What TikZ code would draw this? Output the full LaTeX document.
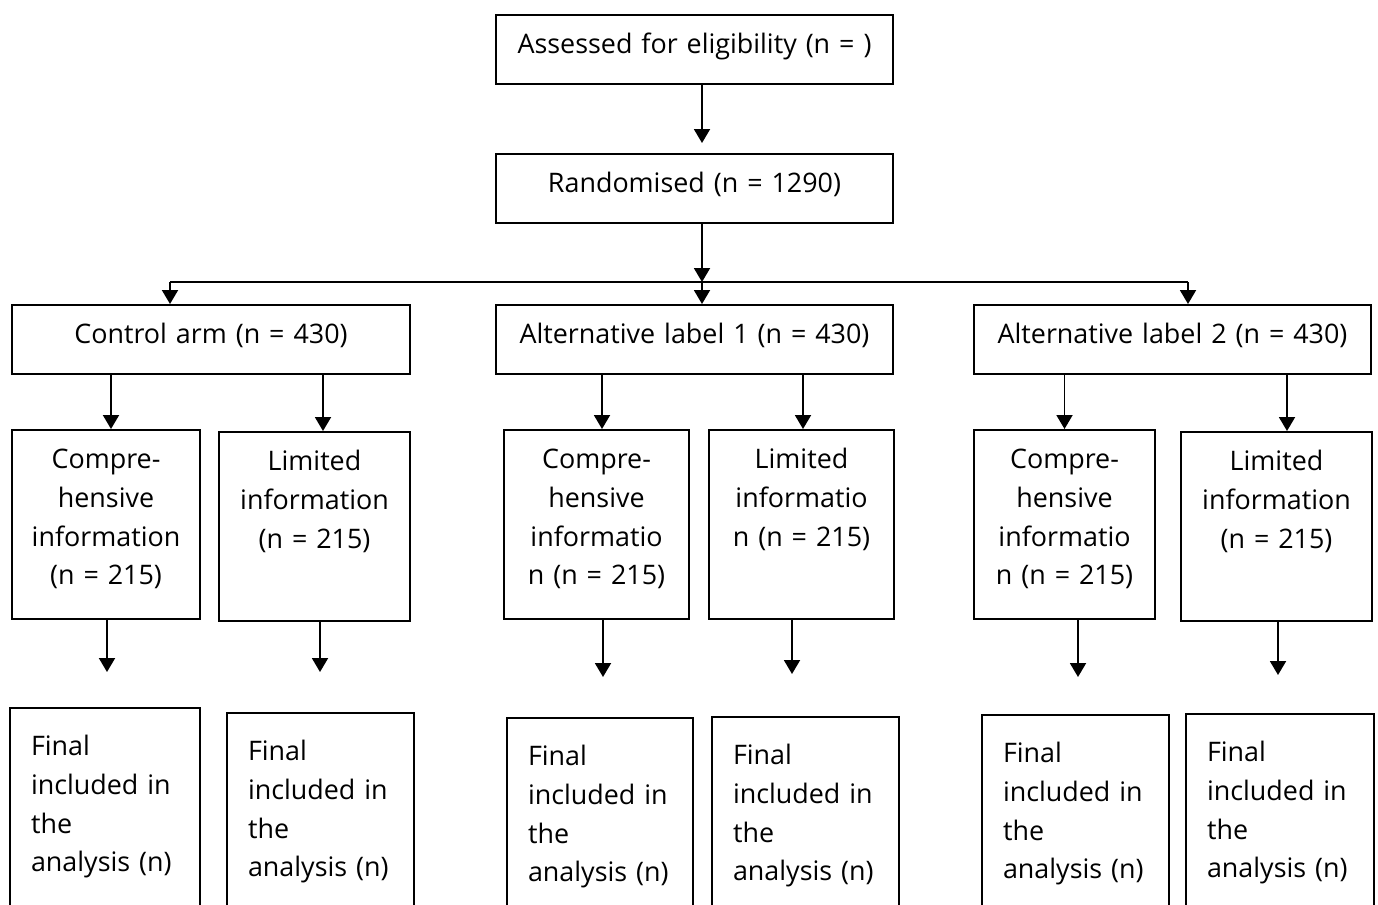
\documentclass[tikz,border=0pt]{standalone}
\usepackage{fontspec}
\setmainfont{Open Sans}
\usepackage{tikz}
\usetikzlibrary{arrows.meta,calc}
\tikzset{
  flowbox/.style={draw,line width=1.1pt,inner sep=0pt,align=center,anchor=north,
    text height=0.78cm,text depth=0.6cm,font=\fontsize{15.3pt}{22pt}\selectfont},
  armbox/.style={flowbox,text depth=3.0cm},
  finalbox/.style={flowbox,align=left,inner xsep=0.42cm,text height=0.96cm,text depth=3.6cm},
  diagramarrow/.style={-{Triangle[length=0.28cm,width=0.32cm]},line width=1.1pt},
  branchline/.style={line width=1.1pt}
}

\begin{document}
\begin{tikzpicture}[x=0.02cm,y=-0.02cm]
  \useasboundingbox (0,0) rectangle (1378,904);
  \clip (0,0) rectangle (1378,904);
  \node[flowbox,text width=7.94cm] (elig) at (694.5,14) {Assessed for eligibility (n = )};
  \node[flowbox,text width=7.94cm] (rand) at (694.5,153) {Randomised (n = 1290)};
  \node[flowbox,text width=7.96cm] (ctrl) at (211,304) {Control arm (n = 430)};
  \node[flowbox,text width=7.94cm] (alt1) at (694.5,304) {Alternative label 1 (n = 430)};
  \node[flowbox,text width=7.94cm] (alt2) at (1172.5,304) {Alternative label 2 (n = 430)};

  \node[armbox,text width=3.76cm] (ctrlcomp) at (106,429) {Compre-\\hensive\\information\\(n = 215)};
  \node[armbox,text width=3.82cm] (ctrllim) at (314.5,431) {Limited\\information\\(n = 215)};
  \node[armbox,text width=3.7cm] (alt1comp) at (596.5,429) {Compre-\\hensive\\informatio\\n (n = 215)};
  \node[armbox,text width=3.7cm] (alt1lim) at (801.5,429) {Limited\\informatio\\n (n = 215)};
  \node[armbox,text width=3.62cm] (alt2comp) at (1064.5,429) {Compre-\\hensive\\informatio\\n (n = 215)};
  \node[armbox,text width=3.82cm] (alt2lim) at (1276.5,431) {Limited\\information\\(n = 215)};

  \node[finalbox,text width=2.96cm] (ctrlcompfin) at (105,707) {Final\\included in\\the\\analysis (n)};
  \node[finalbox,text width=2.9cm] (ctrllimfin) at (320.5,712) {Final\\included in\\the\\analysis (n)};
  \node[finalbox,text width=2.88cm] (alt1compfin) at (600,717) {Final\\included in\\the\\analysis (n)};
  \node[finalbox,text width=2.9cm] (alt1limfin) at (805.5,716) {Final\\included in\\the\\analysis (n)};
  \node[finalbox,text width=2.9cm] (alt2compfin) at (1075.5,714) {Final\\included in\\the\\analysis (n)};
  \node[finalbox,text width=2.92cm] (alt2limfin) at (1280,713) {Final\\included in\\the\\analysis (n)};

  \coordinate (split) at (702,282);
  \coordinate (splitL) at (170,282);
  \coordinate (splitR) at (1188,282);
  \draw[diagramarrow,shorten >=0.2cm] (elig.south -| split) -- (rand.north -| split);
  \draw[diagramarrow] (rand.south -| split) -- (split);
  \draw[branchline] (splitL) -- (splitR);
  \draw[diagramarrow] (splitL) -- (ctrl.north -| splitL);
  \draw[diagramarrow] (split) -- (alt1.north -| split);
  \draw[diagramarrow] (splitR) -- (alt2.north -| splitR);

  \draw[diagramarrow] ([xshift=0.1cm]ctrlcomp.north |- ctrl.south) -- ([xshift=0.1cm]ctrlcomp.north);
  \draw[diagramarrow] ([xshift=0.17cm]ctrllim.north |- ctrl.south) -- ([xshift=0.17cm]ctrllim.north);
  \draw[diagramarrow] ([xshift=0.11cm]alt1comp.north |- alt1.south) -- ([xshift=0.11cm]alt1comp.north);
  \draw[diagramarrow] ([xshift=0.03cm]alt1lim.north |- alt1.south) -- ([xshift=0.03cm]alt1lim.north);
  \draw[diagramarrow] (alt2comp.north |- alt2.south) -- (alt2comp.north);
  \draw[diagramarrow] ([xshift=0.21cm]alt2lim.north |- alt2.south) -- ([xshift=0.21cm]alt2lim.north);

  \coordinate (ctrlcompend) at (107,672);
  \coordinate (ctrllimend) at (320,672);
  \coordinate (alt1compend) at (603,677);
  \coordinate (alt1limend) at (792,674);
  \coordinate (alt2compend) at (1078,677);
  \coordinate (alt2limend) at (1278,675);
  \draw[diagramarrow] (ctrlcomp.south -| ctrlcompend) -- (ctrlcompend);
  \draw[diagramarrow] (ctrllim.south -| ctrllimend) -- (ctrllimend);
  \draw[diagramarrow] (alt1comp.south -| alt1compend) -- (alt1compend);
  \draw[diagramarrow] (alt1lim.south -| alt1limend) -- (alt1limend);
  \draw[diagramarrow] (alt2comp.south -| alt2compend) -- (alt2compend);
  \draw[diagramarrow] (alt2lim.south -| alt2limend) -- (alt2limend);
\end{tikzpicture}
\end{document}
